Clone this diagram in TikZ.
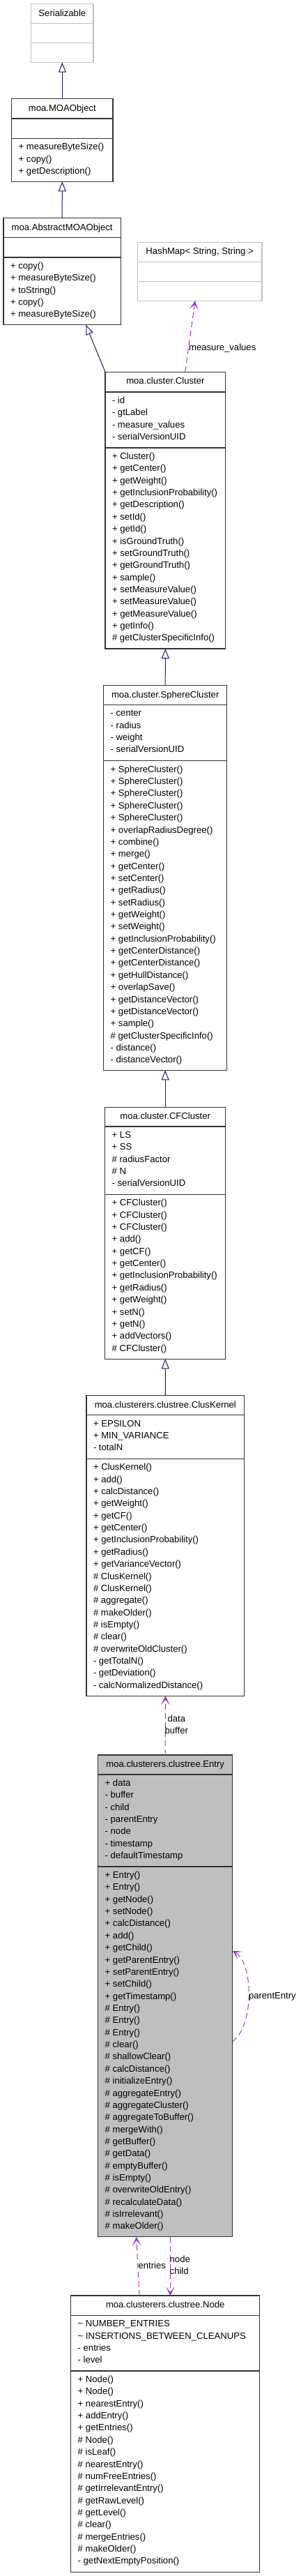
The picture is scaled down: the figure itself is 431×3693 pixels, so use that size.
\documentclass[tikz,border=0pt]{standalone}
\usepackage{fontspec}
\setmainfont{Liberation Sans}
\usetikzlibrary{arrows.meta,calc}
\definecolor{navyln}{HTML}{191970}
\definecolor{purp}{HTML}{9A32CD}
\definecolor{boxgray}{HTML}{BFBFBF}
\definecolor{bord}{HTML}{333333}
\tikzset{
  cls/.style={draw=bord, line width=1.2pt, anchor=north west, inner sep=0pt, outer sep=0pt, rectangle},
  divl/.style={draw=bord, line width=1.2pt},
  lite/.style={draw=boxgray},
  hl/.style={fill=boxgray},
  txtf/.style={inner sep=0pt, outer sep=0pt, font=\fontsize{13.1}{15}\selectfont},
  ttl/.style={txtf, anchor=base},
  ln/.style={txtf, anchor=base west},
  lbl/.style={txtf, anchor=base},
  gen/.style={draw=navyln, line width=1pt, -{Triangle[open,length=14pt,width=11pt,fill=white]}},
  usel/.style={draw=purp, line width=1pt, dash pattern=on 8pt off 5pt, -{Stealth[length=13pt,width=13pt,inset=8pt,fill=purp]}}
}
\newcommand\umlbox[8][]{%
  \pgfmathsetmacro\bw{#5-#3}\pgfmathsetmacro\bh{#6-#4}%
  \node[cls,#1,minimum width=\bw pt,minimum height=\bh pt] (#2) at (#3,#4) {};%
  \draw[divl,#1] (#3,#7) -- (#5,#7);%
  \draw[divl,#1] (#3,#8) -- (#5,#8);%
}
\newcommand\umltitle[2]{\node[ttl] (#1-t) at ($(#1.north)+(0,17.6)$) {#2};}
\newcommand\umllines[4]{\foreach \t [count=\i] in {#4}{\node[ln] (#1-\i) at (#2,{#3+(\i-1)*17.36}) {\t};}}
\begin{document}
\begin{tikzpicture}[x=1pt,y=-1pt]
\useasboundingbox (0,0) rectangle (431,3693);
% Serializable
\umlbox[lite]{ser}{44.7}{5.7}{134}{89.7}{33.7}{61.7}
\umltitle{ser}{Serializable}
% MOAObject
\umlbox{moa}{16.7}{141.7}{162}{260.3}{170}{198.3}
\umltitle{moa}{moa.MOAObject}
\umllines{moam}{26.7}{214.8}{+ measureByteSize(),+ copy(),+ getDescription()}
% AbstractMOAObject
\umlbox{abs}{5}{312.7}{173.3}{465.7}{340.7}{369}
\umltitle{abs}{moa.AbstractMOAObject}
\umllines{absm}{15}{385.5}{+ copy(),+ measureByteSize(),+ toString(),+ copy(),+ measureByteSize()}
% HashMap
\umlbox[lite]{hash}{197.3}{347.3}{376}{431.3}{375.3}{403.3}
\umltitle{hash}{HashMap< String, String >}
% Cluster
\umlbox{cluster}{151}{533.3}{323.7}{930}{562}{642}
\umltitle{cluster}{moa.cluster.Cluster}
\umllines{clustera}{161}{578.5}{- id,- gtLabel,- measure\_values,- serialVersionUID}
\umllines{clusterm}{161}{658.5}{+ Cluster(),+ getCenter(),+ getWeight(),+ getInclusionProbability(),+ getDescription(),+ setId(),+ getId(),+ isGroundTruth(),+ setGroundTruth(),+ getGroundTruth(),+ sample(),+ setMeasureValue(),+ setMeasureValue(),+ getMeasureValue(),+ getInfo(),\# getClusterSpecificInfo()}
% SphereCluster
\umlbox{sphere}{148.7}{982.7}{325.7}{1534.3}{1010.3}{1090.7}
\umltitle{sphere}{moa.cluster.SphereCluster}
\umllines{spherea}{158.7}{1026.8}{- center,- radius,- weight,- serialVersionUID}
\umllines{spherem}{158.7}{1107.2}{+ SphereCluster(),+ SphereCluster(),+ SphereCluster(),+ SphereCluster(),+ SphereCluster(),+ overlapRadiusDegree(),+ combine(),+ merge(),+ getCenter(),+ setCenter(),+ getRadius(),+ setRadius(),+ getWeight(),+ setWeight(),+ getInclusionProbability(),+ getCenterDistance(),+ getCenterDistance(),+ getHullDistance(),+ overlapSave(),+ getDistanceVector(),+ getDistanceVector(),+ sample(),\# getClusterSpecificInfo(),- distance(),- distanceVector()}
% CFCluster
\umlbox{cf}{150.7}{1587.3}{323.7}{1948.3}{1615}{1712.3}
\umltitle{cf}{moa.cluster.CFCluster}
\umllines{cfa}{160.7}{1631.5}{+ LS,+ SS,\# radiusFactor,\# N,- serialVersionUID}
\umllines{cfm}{160.7}{1728.8}{+ CFCluster(),+ CFCluster(),+ CFCluster(),+ add(),+ getCF(),+ getCenter(),+ getInclusionProbability(),+ getRadius(),+ getWeight(),+ setN(),+ getN(),+ addVectors(),\# CFCluster()}
% ClusKernel
\umlbox{clus}{124}{2000.7}{350.7}{2431.3}{2028.7}{2091.3}
\umltitle{clus}{moa.clusterers.clustree.ClusKernel}
\umllines{clusa}{134}{2045.2}{+ EPSILON,+ MIN\_VARIANCE,- totalN}
\umllines{clusm}{134}{2107.8}{+ ClusKernel(),+ add(),+ calcDistance(),+ getWeight(),+ getCF(),+ getCenter(),+ getInclusionProbability(),+ getRadius(),+ getVarianceVector(),\# ClusKernel(),\# ClusKernel(),\# aggregate(),\# makeOlder(),\# isEmpty(),\# clear(),\# overwriteOldCluster(),- getTotalN(),- getDeviation(),- calcNormalizedDistance()}
% Entry
\umlbox[hl]{entry}{140.7}{2516}{333.7}{3206.7}{2544}{2676}
\umltitle{entry}{moa.clusterers.clustree.Entry}
\umllines{entrya}{150.7}{2560.5}{+ data,- buffer,- child,- parentEntry,- node,- timestamp,- defaultTimestamp}
\umllines{entrym}{150.7}{2692.5}{+ Entry(),+ Entry(),+ getNode(),+ setNode(),+ calcDistance(),+ add(),+ getChild(),+ getParentEntry(),+ setParentEntry(),+ setChild(),+ getTimestamp(),\# Entry(),\# Entry(),\# Entry(),\# clear(),\# shallowClear(),\# calcDistance(),\# initializeEntry(),\# aggregateEntry(),\# aggregateCluster(),\# aggregateToBuffer(),\# mergeWith(),\# getBuffer(),\# getData(),\# emptyBuffer(),\# isEmpty(),\# overwriteOldEntry(),\# recalculateData(),\# isIrrelevant(),\# makeOlder()}
% Node
\umlbox{node}{101.7}{3291}{372.7}{3687.3}{3319.3}{3399}
\umltitle{node}{moa.clusterers.clustree.Node}
\umllines{nodea}{111.7}{3335.8}{\textasciitilde{} NUMBER\_ENTRIES,\textasciitilde{} INSERTIONS\_BETWEEN\_CLEANUPS,- entries,- level}
\umllines{nodem}{111.7}{3415.5}{+ Node(),+ Node(),+ nearestEntry(),+ addEntry(),+ getEntries(),\# Node(),\# isLeaf(),\# nearestEntry(),\# numFreeEntries(),\# getIrrelevantEntry(),\# getRawLevel(),\# getLevel(),\# clear(),\# mergeEntries(),\# makeOlder(),- getNextEmptyPosition()}
% generalization connectors
\draw[gen] (moa.north) -- (ser.south);
\draw[gen] (abs.north) -- (moa.south);
\draw[gen] (cluster.north west) -- ([xshift=34.15pt]abs.south);
\draw[gen] (sphere.north) -- (cluster.south);
\draw[gen] (cf.north) -- (sphere.south);
\draw[gen] (clus.north) -- (cf.south);
% usage connectors
\draw[usel] ([xshift=28.35pt]cluster.north) -- ([xshift=-6.65pt]hash.south);
\draw[usel] (entry.north) -- (clus.south);
\draw[usel] ([yshift=-65.35pt]entry.east) .. controls ([xshift=30.8pt,yshift=-43.65pt]entry.east) and ([xshift=30.8pt,yshift=46.35pt]entry.east) .. ([yshift=64.65pt]entry.east);
\draw[usel] ([xshift=-37.2pt]node.north) -- ([xshift=-41.5pt]entry.south);
\draw[usel] ([xshift=7.1pt]entry.south) -- ([xshift=7.1pt]node.north);
% labels
\node[lbl, anchor=base west] (lmv) at (271.2,502.5) {measure\_values};
\node[lbl] (ldata) at (253.3,2468) {data};
\node[lbl] (lbuf) at (253.3,2485) {buffer};
\node[lbl, anchor=base west] (lpe) at (357,2865.5) {parentEntry};
\node[lbl] (lent) at (218.3,3252.7) {entries};
\node[lbl, anchor=base west] (lnode) at (243.7,3243.7) {node};
\node[lbl, anchor=base west] (lchild) at (243.7,3260.7) {child};
\end{tikzpicture}
\end{document}
